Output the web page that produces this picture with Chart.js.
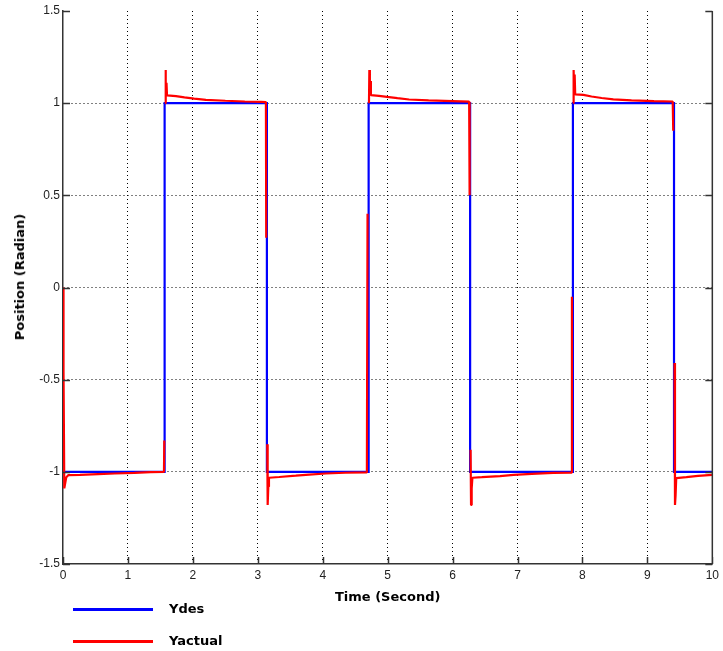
<!DOCTYPE html>
<html>
<head>
<meta charset="utf-8">
<script src="https://cdn.jsdelivr.net/npm/chart.js@4/dist/chart.umd.min.js"></script>
<style>
  html, body { margin: 0; padding: 0; background: #fff; }
  #wrap { position: relative; width: 723px; height: 651px; }
  #c { position: absolute; left: 0; top: 0; }
  .legline { position: absolute; left: 73px; width: 80px; height: 3px; }
  .legtext { position: absolute; left: 169px; font: bold 13px "DejaVu Sans", sans-serif; color: #000; line-height: 16px; }
  #ytitle { position: absolute; left: 20px; top: 277px; transform: translate(-50%, -50%) rotate(-90deg);
            white-space: nowrap; font: bold 13px "DejaVu Sans", sans-serif; color: #000; line-height: 16px; }
</style>
</head>
<body>
<div id="wrap">
  <canvas id="c" width="723" height="651"></canvas>
  <div id="ytitle">Position (Radian)</div>
  <div class="legline" style="top:608px;background:#0000ff"></div>
  <div class="legtext" style="top:601px">Ydes</div>
  <div class="legline" style="top:640px;background:#ff0000"></div>
  <div class="legtext" style="top:633px">Yactual</div>
</div>
<script>
// ---- data ----
const xTickValues = [0, 1, 2, 3, 4, 5, 6, 7, 8, 9, 10];
const yTickValues = [-1.5, -1, -0.5, 0, 0.5, 1, 1.5];

const ydesTime  = [0, 1.565, 1.565, 3.14, 3.14, 4.707, 4.707, 6.27, 6.27, 7.853, 7.853, 9.41, 9.41, 10];
const ydesValue = [-1, -1, 1, 1, -1, -1, 1, 1, -1, -1, 1, 1, -1, -1];

const yactTime = [
  0, 0.008, 0.02, 0.05, 0.08, 0.26, 0.54, 0.80, 1.10, 1.35, 1.555, 1.56, 1.562,
  1.572, 1.578, 1.586, 1.594, 1.602, 1.74, 1.87, 2.02, 2.20, 2.50, 2.80, 3.05, 3.125, 3.13, 3.132,
  3.145, 3.152, 3.162, 3.172, 3.33, 3.585, 3.79, 4.05, 4.35, 4.68, 4.69, 4.692,
  4.712, 4.718, 4.726, 4.734, 4.742, 4.865, 4.99, 5.15, 5.33, 5.63, 6.0, 6.255, 6.262, 6.264,
  6.277, 6.284, 6.294, 6.305, 6.45, 6.73, 6.94, 7.22, 7.55, 7.83, 7.838, 7.84,
  7.858, 7.864, 7.872, 7.88, 7.888, 8.015, 8.14, 8.295, 8.475, 8.755, 9.10, 9.39, 9.398, 9.40,
  9.418, 9.425, 9.434, 9.444, 9.60, 9.78, 10.0
];
const yactValue = [
  0, -0.45, -1.09, -1.03, -1.018, -1.016, -1.012, -1.009, -1.006, -1.002, -1.0, -0.83, null,
  1.0, 1.18, 1.04, 1.11, 1.042, 1.038, 1.031, 1.025, 1.018, 1.013, 1.009, 1.007, 1.006, 0.27, null,
  -0.85, -1.18, -1.08, -1.032, -1.028, -1.021, -1.015, -1.009, -1.005, -1.003, 0.40, null,
  1.0, 1.18, 1.04, 1.12, 1.044, 1.04, 1.034, 1.027, 1.02, 1.015, 1.011, 1.008, 0.5, null,
  -0.88, -1.18, -1.09, -1.032, -1.029, -1.023, -1.017, -1.011, -1.006, -1.004, -0.05, null,
  1.0, 1.18, 1.05, 1.155, 1.048, 1.045, 1.036, 1.028, 1.021, 1.015, 1.011, 1.009, 0.85, null,
  -0.41, -1.18, -1.13, -1.034, -1.029, -1.022, -1.016
];

const toPoints = (ts, vs) => ts.map((t, i) => ({ x: t, y: vs[i] }));

const AXIS_COLOR = '#333';
const innerAxes = {
  id: 'innerAxes',
  afterDraw(chart) {
    const { ctx, chartArea: a, scales } = chart;
    const xs = scales.x, ys = scales.y;
    const L = 7;
    ctx.save();
    ctx.strokeStyle = AXIS_COLOR;
    ctx.lineWidth = 1.5;
    ctx.beginPath();
    ctx.moveTo(a.right, a.top);
    ctx.lineTo(a.right, a.bottom);
    yTickValues.forEach(v => {
      const y = Math.round(ys.getPixelForValue(v)) + 0.5;
      ctx.moveTo(a.left, y); ctx.lineTo(a.left + L, y);
      ctx.moveTo(a.right, y); ctx.lineTo(a.right - L, y);
    });
    xTickValues.forEach(v => {
      const x = Math.round(xs.getPixelForValue(v)) + 0.5;
      ctx.moveTo(x, a.bottom); ctx.lineTo(x, a.bottom - L);
    });
    ctx.stroke();
    ctx.restore();
  }
};

const gridColor = (vals) => (c) => {
  const v = c.tick && c.tick.value;
  return (v === vals[0] || v === vals[vals.length - 1]) ? 'rgba(0,0,0,0)' : '#000';
};

new Chart(document.getElementById('c'), {
  type: 'line',
  data: {
    datasets: [
      {
        label: 'Ydes',
        data: toPoints(ydesTime, ydesValue),
        borderColor: '#0000ff',
        borderWidth: 2.2,
        pointRadius: 0,
        tension: 0,
        order: 2
      },
      {
        label: 'Yactual',
        data: toPoints(yactTime, yactValue),
        borderColor: '#ff0000',
        borderWidth: 2.2,
        pointRadius: 0,
        tension: 0,
        spanGaps: false,
        borderJoinStyle: 'bevel',
        order: 1
      }
    ]
  },
  options: {
    responsive: false,
    animation: false,
    layout: { padding: { left: 0, top: 11, right: 9, bottom: 0 } },
    plugins: { legend: { display: false }, tooltip: { enabled: false } },
    scales: {
      x: {
        type: 'linear',
        min: 0, max: 10,
        afterBuildTicks: (s) => { s.ticks = xTickValues.map(v => ({ value: v })); },
        afterFit: (s) => { s.height = 87; },
        ticks: {
          padding: 4,
          maxRotation: 0,
          autoSkip: false,
          color: '#222',
          font: { family: '"Liberation Sans", Arial, sans-serif', size: 12 },
          callback: (v) => String(v)
        },
        grid: { color: gridColor(xTickValues), lineWidth: 1, drawTicks: false },
        border: { display: true, color: AXIS_COLOR, width: 1.5, dash: [1, 3] },
        title: {
          display: true,
          text: 'Time (Second)',
          color: '#000',
          font: { family: '"DejaVu Sans", sans-serif', size: 13, weight: 'bold' },
          padding: { top: 0, bottom: 46 }
        }
      },
      y: {
        type: 'linear',
        min: -1.5, max: 1.5,
        afterBuildTicks: (s) => { s.ticks = yTickValues.map(v => ({ value: v })); },
        afterFit: (s) => { s.width = 63; },
        ticks: {
          padding: 3,
          autoSkip: false,
          color: '#222',
          font: { family: '"Liberation Sans", Arial, sans-serif', size: 12 },
          callback: (v) => String(v)
        },
        grid: { color: gridColor(yTickValues), lineWidth: 1, drawTicks: false },
        border: { display: true, color: AXIS_COLOR, width: 1.5, dash: [1, 3] },
        title: { display: false }
      }
    }
  },
  plugins: [innerAxes]
});
</script>
</body>
</html>
